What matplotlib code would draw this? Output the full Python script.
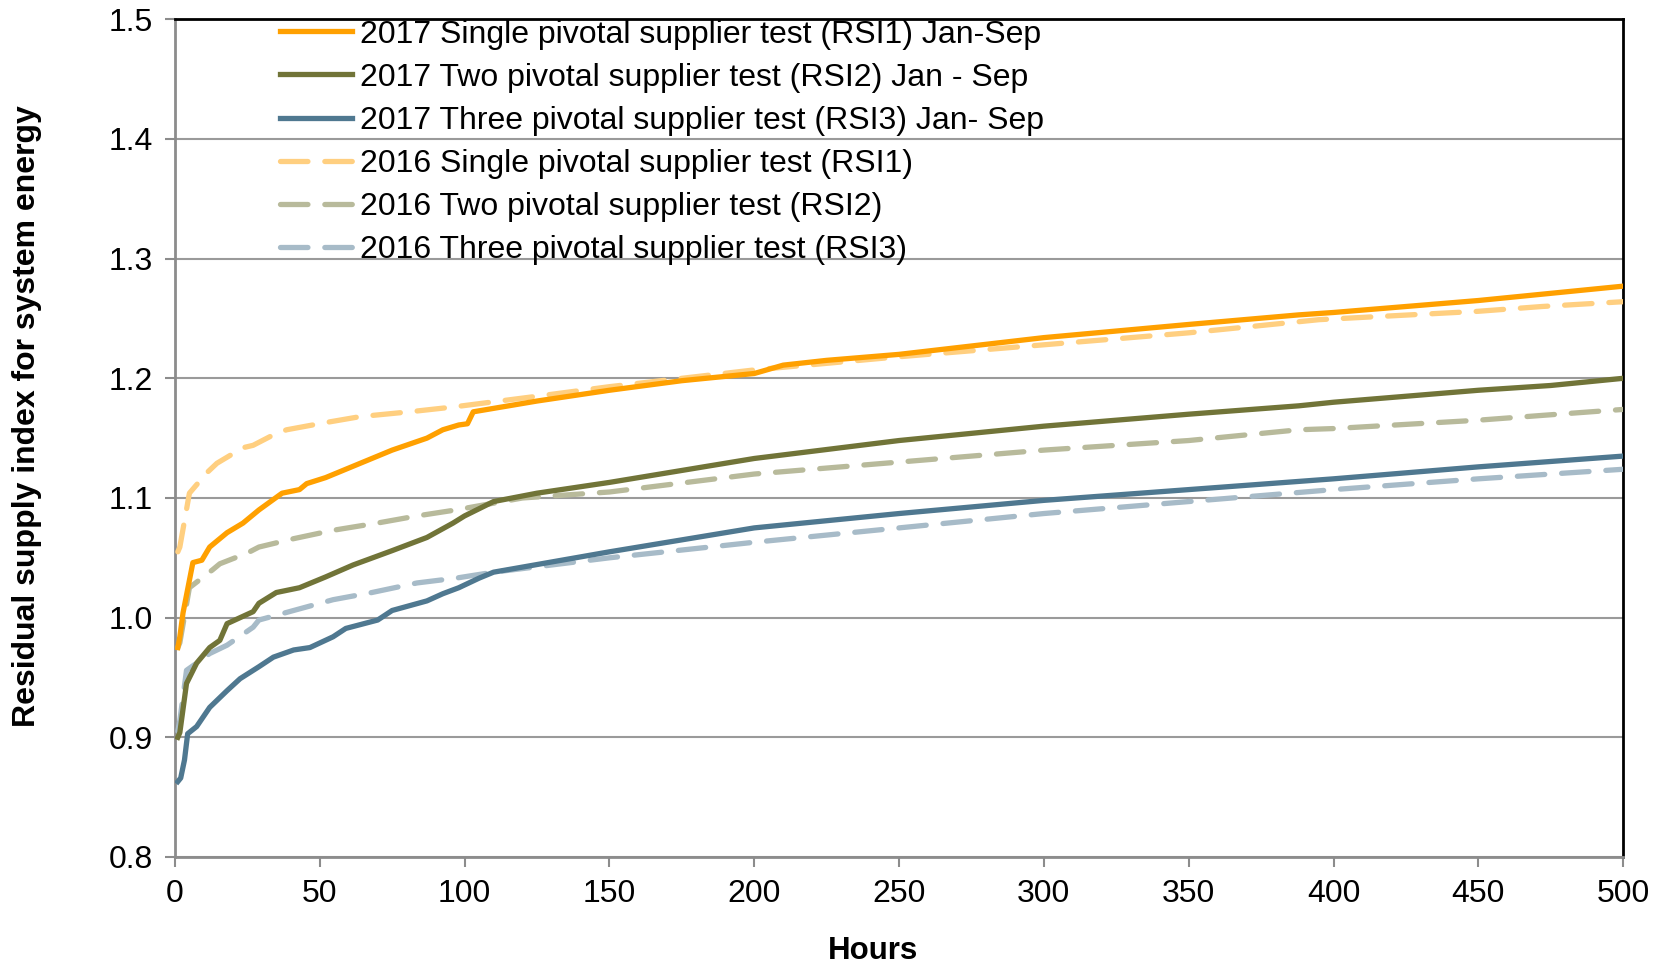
import matplotlib
matplotlib.use("Agg")
from matplotlib import pyplot as plt

plt.rcParams['font.family'] = ['Liberation Sans', 'DejaVu Sans']

# 2017 single pivotal supplier (RSI1)
rsi1_2017_x = [1, 1.7, 2.8, 6.2, 9.3, 12, 18, 23.5, 29, 37, 43, 45.5, 52, 64, 75, 87, 92.5, 98, 101,
               103, 125, 150, 175, 200, 210, 225, 250, 300, 350, 388, 400, 450, 475, 500]
rsi1_2017_y = [0.975, 0.984, 1.004, 1.046, 1.048, 1.059, 1.071, 1.079, 1.090, 1.104, 1.107, 1.112, 1.117,
               1.129, 1.140, 1.150, 1.157, 1.161, 1.162, 1.172, 1.181, 1.190, 1.198, 1.204, 1.211, 1.215,
               1.220, 1.234, 1.245, 1.253, 1.255, 1.265, 1.271, 1.277]

# 2017 two pivotal suppliers (RSI2)
rsi2_2017_x = [1, 1.7, 4, 7.5, 12, 15.5, 18, 27, 29, 35, 43, 52, 61.5, 75, 87, 96, 100, 110, 125, 150,
               200, 250, 300, 350, 388, 400, 450, 475, 500]
rsi2_2017_y = [0.900, 0.904, 0.945, 0.962, 0.975, 0.981, 0.995, 1.005, 1.012, 1.021, 1.025, 1.034, 1.044,
               1.056, 1.067, 1.079, 1.085, 1.097, 1.104, 1.113, 1.133, 1.148, 1.160, 1.170, 1.177, 1.180,
               1.190, 1.194, 1.200]

# 2017 three pivotal suppliers (RSI3)
rsi3_2017_x = [1, 2, 3.3, 4.4, 7.5, 12, 18, 22.5, 29, 34, 41, 46.6, 54.6, 59, 70, 75, 87, 92.5, 98, 105,
               110, 150, 200, 250, 300, 350, 400, 450, 500]
rsi3_2017_y = [0.863, 0.866, 0.881, 0.903, 0.909, 0.925, 0.939, 0.949, 0.959, 0.967, 0.973, 0.975, 0.984,
               0.991, 0.998, 1.006, 1.014, 1.020, 1.025, 1.033, 1.038, 1.055, 1.075, 1.087, 1.098, 1.107,
               1.116, 1.126, 1.135]

# 2016 series
rsi1_2016_x = [1, 1.7, 5, 11, 14.5, 23.5, 27, 35, 38.6, 52, 64, 81, 96, 125, 150, 175, 200, 250, 300,
               350, 395, 450, 472, 500]
rsi1_2016_y = [1.055, 1.059, 1.104, 1.121, 1.129, 1.142, 1.144, 1.154, 1.157, 1.163, 1.168, 1.172, 1.176,
               1.185, 1.193, 1.200, 1.207, 1.218, 1.228, 1.238, 1.249, 1.256, 1.260, 1.264]

rsi2_2016_x = [1, 1.7, 5, 13, 15.5, 25, 29, 41, 54.6, 69.8, 83.6, 97, 120, 150, 200, 250, 300, 350,
               388, 400, 450, 472, 500]
rsi2_2016_y = [0.975, 0.979, 1.025, 1.040, 1.045, 1.054, 1.059, 1.066, 1.073, 1.079, 1.085, 1.090, 1.100,
               1.105, 1.120, 1.130, 1.140, 1.148, 1.157, 1.158, 1.165, 1.169, 1.174]

rsi3_2016_x = [1, 1.7, 4, 7.5, 12, 18, 27, 29, 41, 54.6, 68, 83.6, 97, 110, 150, 200, 250, 300, 350,
               400, 450, 500]
rsi3_2016_y = [0.905, 0.914, 0.956, 0.962, 0.970, 0.977, 0.992, 0.998, 1.006, 1.015, 1.021, 1.029, 1.033,
               1.038, 1.050, 1.063, 1.075, 1.087, 1.097, 1.107, 1.116, 1.124]

labels = ["2017 Single pivotal supplier test (RSI1) Jan-Sep",
          "2017 Two pivotal supplier test (RSI2) Jan - Sep",
          "2017 Three pivotal supplier test (RSI3) Jan- Sep",
          "2016 Single pivotal supplier test (RSI1)",
          "2016 Two pivotal supplier test (RSI2)",
          "2016 Three pivotal supplier test (RSI3)"]

fig = plt.figure(figsize=(16.58, 9.64), dpi=100)
ax = fig.add_axes([0.1055, 0.111, 0.8735, 0.869])

lw = 3.8
dash = (5.2, 3.2)
ax.plot(rsi1_2017_x, rsi1_2017_y, color="#FFA000", lw=lw, label=labels[0], zorder=4)
ax.plot(rsi2_2017_x, rsi2_2017_y, color="#717438", lw=lw, label=labels[1], zorder=4)
ax.plot(rsi3_2017_x, rsi3_2017_y, color="#4F7890", lw=lw, label=labels[2], zorder=4)
ax.plot(rsi1_2016_x, rsi1_2016_y, color="#FFCF80", lw=lw, dashes=dash, dash_capstyle="round",
        label=labels[3], zorder=3)
ax.plot(rsi2_2016_x, rsi2_2016_y, color="#B8BA9B", lw=lw, dashes=dash, dash_capstyle="round",
        label=labels[4], zorder=3)
ax.plot(rsi3_2016_x, rsi3_2016_y, color="#A7BBC8", lw=lw, dashes=dash, dash_capstyle="round",
        label=labels[5], zorder=3)

ax.set_xlim(0, 500)
ax.set_ylim(0.8, 1.5)
ax.set_xticks(range(0, 501, 50))
ax.set_yticks([0.8, 0.9, 1.0, 1.1, 1.2, 1.3, 1.4, 1.5])
ax.set_yticklabels(["0.8", "0.9", "1.0", "1.1", "1.2", "1.3", "1.4", "1.5"])
ax.grid(axis="y", color="#9a9a9a", lw=1.5)
ax.set_axisbelow(True)
ax.tick_params(labelsize=23, color="#8c8c8c", width=1.5, length=7, pad=9)

for s in ["left", "bottom"]:
    ax.spines[s].set_color("#8c8c8c")
    ax.spines[s].set_linewidth(2)
for s in ["top", "right"]:
    ax.spines[s].set_color("black")
    ax.spines[s].set_linewidth(2)

ax.set_xlabel("Hours", fontsize=22.5, fontweight="bold")
ax.xaxis.set_label_coords(0.482, -0.094)
ax.set_ylabel("Residual supply index for system energy", fontsize=23, fontweight="bold")
ax.yaxis.set_label_coords(-0.092, 0.526)

ax.legend(loc="upper left", bbox_to_anchor=(0.053, 1.034), frameon=False, fontsize=23,
          handlelength=2.25, labelspacing=0.41, handletextpad=0.23)

fig.savefig("out.png", dpi=100)
